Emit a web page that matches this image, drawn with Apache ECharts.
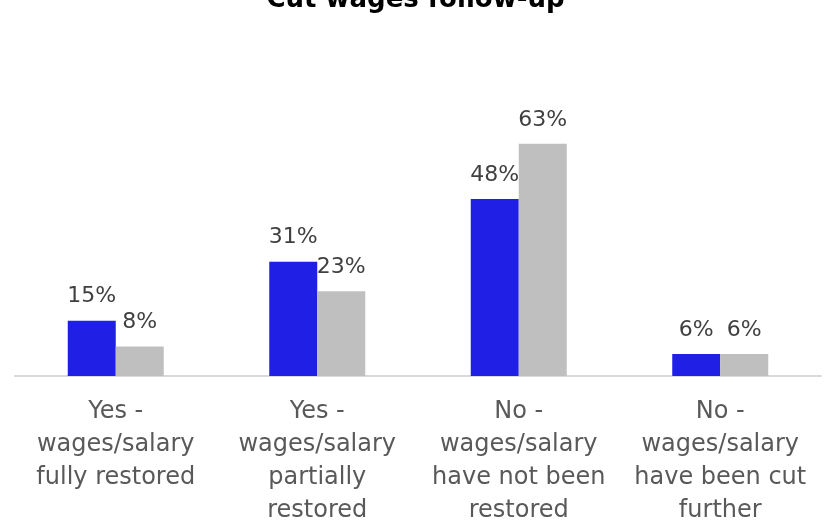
<!DOCTYPE html>
<html><head><meta charset="utf-8">
<script src="https://cdn.jsdelivr.net/npm/echarts@6/dist/echarts.min.js"></script>
<style>html,body{margin:0;padding:0;background:#fff}#c{width:831px;height:521px}</style>
</head><body><div id="c"></div>
<script>
const categories = ["Yes -\nwages/salary\nfully restored", "Yes -\nwages/salary\npartially\nrestored", "No -\nwages/salary\nhave not been\nrestored", "No -\nwages/salary\nhave been cut\nfurther"];
const series1 = [15, 31, 48, 6];
const series2 = [8, 23, 63, 6];
const titleText = "Cut wages follow-up";

const chart = echarts.init(document.getElementById('c'));
const labelStyle = {show: true, position: 'top', distance: 13, formatter: '{c}%', color: '#404040', fontSize: 22, fontFamily: 'DejaVu Sans'};
chart.setOption({
  animation: false,
  title: {text: titleText, left: 'center', top: -18, textStyle: {fontSize: 26, fontWeight: 'bold', color: '#000', fontFamily: 'DejaVu Sans'}},
  grid: {left: 15, right: 10, top: 118, bottom: 145, containLabel: false, outerBoundsMode: 'none'},
  xAxis: {type: 'category', data: categories,
    axisLine: {lineStyle: {color: '#D9D9D9', width: 2}}, axisTick: {show: false},
    axisLabel: {color: '#595959', fontSize: 24, lineHeight: 33, margin: 19, fontFamily: 'DejaVu Sans', interval: 0}},
  yAxis: {type: 'value', min: 0, max: 70, show: false, splitLine: {show: false}},
  series: [
    {type: 'bar', data: series1, barWidth: 48, barGap: '0%', itemStyle: {color: '#1F1FE6'}, label: labelStyle},
    {type: 'bar', data: series2, barWidth: 48, itemStyle: {color: '#BFBFBF'}, label: labelStyle}
  ]
});
</script></body></html>
